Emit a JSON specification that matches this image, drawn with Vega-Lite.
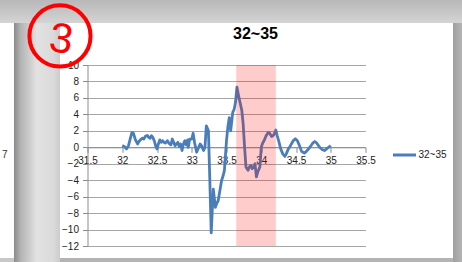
{
  "$schema": "https://vega.github.io/schema/vega-lite/v6.json",
  "width": 278,
  "height": 181,
  "autosize": {"type": "none"},
  "padding": {"left": 87.5, "top": 65, "right": 96.5, "bottom": 16},
  "background": "white",
  "config": {"view": {"stroke": null}, "font": "Liberation Sans"},
  "title": {"text": "32~35", "fontSize": 16, "fontWeight": "bold", "color": "#000000", "anchor": "middle", "dx": 29, "offset": -45},
  "datasets": {
    "series": [
      {"x": 32.00, "y": 0.2, "series": "32~35"},
      {"x": 32.03, "y": 0.1, "series": "32~35"},
      {"x": 32.06, "y": -0.2, "series": "32~35"},
      {"x": 32.09, "y": 0.2, "series": "32~35"},
      {"x": 32.12, "y": 1.2, "series": "32~35"},
      {"x": 32.14, "y": 1.8, "series": "32~35"},
      {"x": 32.16, "y": 1.7, "series": "32~35"},
      {"x": 32.19, "y": 0.9, "series": "32~35"},
      {"x": 32.22, "y": 0.4, "series": "32~35"},
      {"x": 32.24, "y": 0.7, "series": "32~35"},
      {"x": 32.26, "y": 0.9, "series": "32~35"},
      {"x": 32.29, "y": 1.1, "series": "32~35"},
      {"x": 32.31, "y": 1.0, "series": "32~35"},
      {"x": 32.33, "y": 1.3, "series": "32~35"},
      {"x": 32.36, "y": 1.45, "series": "32~35"},
      {"x": 32.38, "y": 1.2, "series": "32~35"},
      {"x": 32.40, "y": 1.1, "series": "32~35"},
      {"x": 32.42, "y": 1.4, "series": "32~35"},
      {"x": 32.44, "y": 1.2, "series": "32~35"},
      {"x": 32.46, "y": 0.8, "series": "32~35"},
      {"x": 32.48, "y": 0.2, "series": "32~35"},
      {"x": 32.50, "y": -0.2, "series": "32~35"},
      {"x": 32.52, "y": 0.4, "series": "32~35"},
      {"x": 32.54, "y": 0.9, "series": "32~35"},
      {"x": 32.56, "y": 0.6, "series": "32~35"},
      {"x": 32.58, "y": 0.8, "series": "32~35"},
      {"x": 32.60, "y": 0.6, "series": "32~35"},
      {"x": 32.62, "y": 0.5, "series": "32~35"},
      {"x": 32.65, "y": 0.8, "series": "32~35"},
      {"x": 32.67, "y": 0.5, "series": "32~35"},
      {"x": 32.70, "y": 0.3, "series": "32~35"},
      {"x": 32.72, "y": 1.0, "series": "32~35"},
      {"x": 32.74, "y": 0.6, "series": "32~35"},
      {"x": 32.76, "y": 0.2, "series": "32~35"},
      {"x": 32.78, "y": 0.4, "series": "32~35"},
      {"x": 32.80, "y": 0.6, "series": "32~35"},
      {"x": 32.82, "y": 0.1, "series": "32~35"},
      {"x": 32.84, "y": 0.4, "series": "32~35"},
      {"x": 32.86, "y": -0.4, "series": "32~35"},
      {"x": 32.88, "y": 0.4, "series": "32~35"},
      {"x": 32.90, "y": 0.8, "series": "32~35"},
      {"x": 32.92, "y": 0.3, "series": "32~35"},
      {"x": 32.94, "y": 0.9, "series": "32~35"},
      {"x": 32.95, "y": 0.0, "series": "32~35"},
      {"x": 32.97, "y": 1.0, "series": "32~35"},
      {"x": 33.00, "y": 1.0, "series": "32~35"},
      {"x": 33.02, "y": 1.7, "series": "32~35"},
      {"x": 33.04, "y": 0.6, "series": "32~35"},
      {"x": 33.07, "y": -0.6, "series": "32~35"},
      {"x": 33.09, "y": -0.2, "series": "32~35"},
      {"x": 33.12, "y": 0.4, "series": "32~35"},
      {"x": 33.14, "y": 0.2, "series": "32~35"},
      {"x": 33.17, "y": -0.4, "series": "32~35"},
      {"x": 33.19, "y": 0.0, "series": "32~35"},
      {"x": 33.21, "y": 2.6, "series": "32~35"},
      {"x": 33.24, "y": 2.0, "series": "32~35"},
      {"x": 33.26, "y": -4.0, "series": "32~35"},
      {"x": 33.28, "y": -10.4, "series": "32~35"},
      {"x": 33.31, "y": -5.1, "series": "32~35"},
      {"x": 33.34, "y": -7.3, "series": "32~35"},
      {"x": 33.36, "y": -6.8, "series": "32~35"},
      {"x": 33.38, "y": -6.5, "series": "32~35"},
      {"x": 33.41, "y": -5.0, "series": "32~35"},
      {"x": 33.43, "y": -4.0, "series": "32~35"},
      {"x": 33.45, "y": -3.5, "series": "32~35"},
      {"x": 33.47, "y": -2.8, "series": "32~35"},
      {"x": 33.50, "y": 0.8, "series": "32~35"},
      {"x": 33.52, "y": 2.5, "series": "32~35"},
      {"x": 33.54, "y": 3.6, "series": "32~35"},
      {"x": 33.56, "y": 2.0, "series": "32~35"},
      {"x": 33.59, "y": 4.25, "series": "32~35"},
      {"x": 33.61, "y": 4.6, "series": "32~35"},
      {"x": 33.63, "y": 5.5, "series": "32~35"},
      {"x": 33.65, "y": 7.3, "series": "32~35"},
      {"x": 33.68, "y": 6.0, "series": "32~35"},
      {"x": 33.72, "y": 4.5, "series": "32~35"},
      {"x": 33.74, "y": 2.8, "series": "32~35"},
      {"x": 33.76, "y": 0.0, "series": "32~35"},
      {"x": 33.78, "y": -2.4, "series": "32~35"},
      {"x": 33.81, "y": -2.8, "series": "32~35"},
      {"x": 33.83, "y": -2.4, "series": "32~35"},
      {"x": 33.85, "y": -2.2, "series": "32~35"},
      {"x": 33.87, "y": -2.6, "series": "32~35"},
      {"x": 33.89, "y": -2.4, "series": "32~35"},
      {"x": 33.91, "y": -2.0, "series": "32~35"},
      {"x": 33.93, "y": -3.6, "series": "32~35"},
      {"x": 33.95, "y": -3.0, "series": "32~35"},
      {"x": 33.98, "y": -2.4, "series": "32~35"},
      {"x": 34.00, "y": 0.0, "series": "32~35"},
      {"x": 34.02, "y": 0.5, "series": "32~35"},
      {"x": 34.04, "y": 0.8, "series": "32~35"},
      {"x": 34.07, "y": 1.4, "series": "32~35"},
      {"x": 34.10, "y": 1.8, "series": "32~35"},
      {"x": 34.12, "y": 1.7, "series": "32~35"},
      {"x": 34.15, "y": 1.3, "series": "32~35"},
      {"x": 34.18, "y": 1.5, "series": "32~35"},
      {"x": 34.21, "y": 2.1, "series": "32~35"},
      {"x": 34.23, "y": 1.4, "series": "32~35"},
      {"x": 34.25, "y": 0.8, "series": "32~35"},
      {"x": 34.28, "y": -0.2, "series": "32~35"},
      {"x": 34.31, "y": -0.8, "series": "32~35"},
      {"x": 34.34, "y": -1.1, "series": "32~35"},
      {"x": 34.36, "y": -0.8, "series": "32~35"},
      {"x": 34.39, "y": -0.2, "series": "32~35"},
      {"x": 34.42, "y": 0.2, "series": "32~35"},
      {"x": 34.46, "y": 0.8, "series": "32~35"},
      {"x": 34.49, "y": 1.05, "series": "32~35"},
      {"x": 34.52, "y": 0.8, "series": "32~35"},
      {"x": 34.55, "y": 0.2, "series": "32~35"},
      {"x": 34.58, "y": -0.5, "series": "32~35"},
      {"x": 34.62, "y": -0.7, "series": "32~35"},
      {"x": 34.65, "y": -0.5, "series": "32~35"},
      {"x": 34.70, "y": 0.0, "series": "32~35"},
      {"x": 34.74, "y": 0.5, "series": "32~35"},
      {"x": 34.77, "y": 0.7, "series": "32~35"},
      {"x": 34.80, "y": 0.5, "series": "32~35"},
      {"x": 34.84, "y": 0.0, "series": "32~35"},
      {"x": 34.88, "y": -0.3, "series": "32~35"},
      {"x": 34.91, "y": -0.4, "series": "32~35"},
      {"x": 34.94, "y": -0.2, "series": "32~35"},
      {"x": 34.97, "y": 0.0, "series": "32~35"},
      {"x": 35.00, "y": 0.2, "series": "32~35"}
    ],
    "band": [{"start": 33.64, "end": 34.21}]
  },
  "layer": [
    {
      "data": {"values": [{}]},
      "mark": {"type": "rect", "color": {"gradient": "linear", "x1": 0, "y1": 0, "x2": 0, "y2": 1, "stops": [{"offset": 0, "color": "#b8b8b8"}, {"offset": 1, "color": "#d4d4d4"}]}},
      "encoding": {"x": {"datum": 30.0}, "x2": {"datum": 37.0}, "y": {"datum": 17.9}, "y2": {"datum": 15.11}}
    },
    {
      "data": {"values": [{}]},
      "mark": {"type": "rect", "color": {"gradient": "linear", "x1": 0, "y1": 0, "x2": 1, "y2": 0, "stops": [{"offset": 0, "color": "#8a8a8a"}, {"offset": 0.15, "color": "#b4b4b4"}, {"offset": 0.5, "color": "#e2e2e2"}, {"offset": 0.85, "color": "#dadada"}, {"offset": 1, "color": "#cccccc"}]}},
      "encoding": {"x": {"datum": 30.442}, "x2": {"datum": 31.104}, "y": {"datum": 15.11}, "y2": {"datum": -16.0}}
    },
    {
      "data": {"values": [{}]},
      "mark": {"type": "rect", "color": {"gradient": "linear", "x1": 0, "y1": 0, "x2": 1, "y2": 0, "stops": [{"offset": 0, "color": "#a0a0a0"}, {"offset": 1, "color": "#c4c4c4"}]}},
      "encoding": {"x": {"datum": 36.759}, "x2": {"datum": 37.0}, "y": {"datum": 15.11}, "y2": {"datum": -16.0}}
    },
    {
      "data": {"values": [{}]},
      "mark": {"type": "rect", "color": "#b4b4b4"},
      "encoding": {"x": {"datum": 31.104}, "x2": {"datum": 36.759}, "y": {"datum": -13.46}, "y2": {"datum": -16.0}}
    },
    {
      "data": {"values": [{}]},
      "mark": {"type": "rect", "color": "#c8c8c8"},
      "encoding": {"x": {"datum": 30.0}, "x2": {"datum": 30.442}, "y": {"datum": -13.46}, "y2": {"datum": -16.0}}
    },
    {
      "data": {"values": [{}]},
      "mark": {"type": "text", "text": "7", "fontSize": 10, "color": "#333333", "align": "left", "baseline": "middle"},
      "encoding": {"x": {"datum": 30.27}, "y": {"datum": -0.94}}
    },
    {
      "data": {"name": "series"},
      "mark": {"type": "line", "strokeWidth": 2.8, "strokeJoin": "round"},
      "encoding": {
        "x": {
          "field": "x", "type": "quantitative",
          "scale": {"domain": [31.5, 35.5], "nice": false, "zero": false},
          "axis": {"title": null, "values": [31.5, 32, 32.5, 33, 33.5, 34, 34.5, 35, 35.5], "format": "~g", "tickCount": 40, "offset": -98.7, "grid": false, "tickSize": 5, "tickColor": "#8c8c8c", "domainColor": "#8c8c8c", "labelFontSize": 10, "labelColor": "#222222", "labelPadding": 3, "labelOverlap": false, "labelFlush": false, "labelBound": false}
        },
        "y": {
          "field": "y", "type": "quantitative",
          "scale": {"domain": [-12, 10], "nice": false, "zero": false},
          "axis": {"title": null, "values": [-12, -10, -8, -6, -4, -2, 0, 2, 4, 6, 8, 10], "format": "d", "tickCount": 40, "grid": true, "gridColor": "#a6a6a6", "tickSize": 5, "tickColor": "#8c8c8c", "domainColor": "#8c8c8c", "labelFontSize": 10, "labelColor": "#222222", "labelPadding": 4, "labelOverlap": false}
        },
        "color": {
          "field": "series", "type": "nominal",
          "scale": {"range": ["#4a7ebb"]},
          "legend": {"title": null, "orient": "none", "legendX": 304, "legendY": 77, "symbolType": "stroke", "symbolSize": 529, "symbolStrokeWidth": 3, "labelFontSize": 10, "labelColor": "#222222", "labelOffset": 1, "padding": 0}
        }
      }
    },
    {
      "data": {"name": "band"},
      "mark": {"type": "rect", "color": "#ff0000", "opacity": 0.2},
      "encoding": {"x": {"field": "start", "type": "quantitative"}, "x2": {"field": "end"}}
    },
    {
      "data": {"values": [{}]},
      "mark": {"type": "point", "shape": "circle", "filled": false, "stroke": "#ff0000", "strokeWidth": 4, "size": 3740, "opacity": 1},
      "encoding": {"x": {"datum": 31.104}, "y": {"datum": 13.53}}
    },
    {
      "data": {"values": [{}]},
      "mark": {"type": "text", "text": "3", "fontSize": 42, "fontWeight": "normal", "color": "#ff0000", "align": "center", "baseline": "middle", "angle": 8},
      "encoding": {"x": {"datum": 31.12}, "y": {"datum": 13.1}}
    }
  ]
}
